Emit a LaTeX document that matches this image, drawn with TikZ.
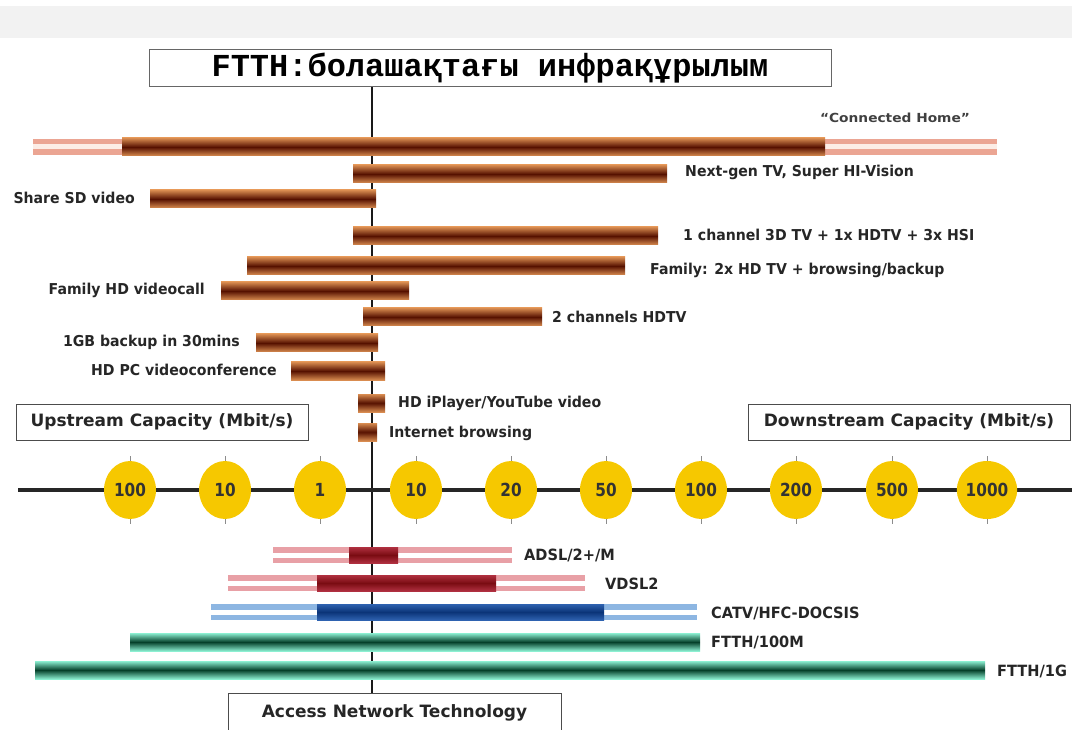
\documentclass[tikz,border=0pt]{standalone}
\usepackage{fontspec}
\usetikzlibrary{shapes.geometric}
\setmainfont{DejaVu Sans}
\newfontfamily\lblf[FakeStretch=0.94]{DejaVu Sans}
\newfontfamily\numf[FakeStretch=0.85]{DejaVu Sans}
\newfontfamily\chf[FakeStretch=1.1]{DejaVu Sans}
\newfontfamily\titlef{Liberation Mono}
\definecolor{brEdge}{HTML}{D98C50}
\definecolor{brDark}{HTML}{561100}
\definecolor{pkLine}{HTML}{EBA593}
\definecolor{pkMid}{HTML}{FCEDE6}
\definecolor{rdLine}{HTML}{E8A0A6}
\definecolor{rdEdge}{HTML}{B03040}
\definecolor{rdDark}{HTML}{7A0C12}
\definecolor{buLine}{HTML}{8DB6E2}
\definecolor{buEdge}{HTML}{2E62B0}
\definecolor{buDark}{HTML}{0B3478}
\definecolor{gnEdge}{HTML}{8CF0D2}
\definecolor{gnDark}{HTML}{05402A}
\definecolor{yel}{HTML}{F6C800}
\definecolor{band}{HTML}{F2F2F2}
\newcommand\brbar[3]{\shade[top color=brEdge,bottom color=brEdge,middle color=brDark] (#1,#3-9) rectangle (#2,#3+9);}
\newcommand\pale[5]{\fill[#4] (#1,#3-8) rectangle (#2,#3+8);\fill[#5] (#1,#3-2.5) rectangle (#2,#3+2.5);}
\begin{document}
\begin{tikzpicture}[x=1pt,y=-1pt,
  lbl/.style={font=\lblf\bfseries\fontsize{15}{17}\selectfont,inner sep=0pt,text=black!85},
  tlbl/.style={font=\lblf\bfseries\fontsize{15.5}{17}\selectfont,inner sep=0pt,text=black!85},
  capbox/.style={draw=black!70,line width=1pt,fill=white,font=\bfseries\fontsize{17}{19}\selectfont,text=black!85,inner sep=0pt},
  ycirc/.style={ellipse,fill=yel,minimum width=52,minimum height=58,inner sep=0pt,font=\numf\bfseries\fontsize{18}{20}\selectfont,text=black!80},
  tick/.style={draw=black!45,line width=0.8pt}]
\useasboundingbox (0,0) rectangle (1072,730);
\fill[band] (0,6) rectangle (1072,38);
% vertical axis
\coordinate (vtop) at (372,87);
\coordinate (vbot) at (372,730);
\draw[line width=2pt,black!90] (vtop) -- (vbot);
% title
\node[draw=black!60,line width=1pt,fill=white,minimum width=682,minimum height=37,inner sep=0pt,
  font=\titlef\bfseries\fontsize{32}{34}\selectfont] (title) at (490,68.5) {FTTH:болашақтағы инфрақұрылым};
% connected home
\pale{33}{997}{147}{pkLine}{pkMid}
\brbar{122}{825}{147}
\node[inner sep=0pt,font=\chf\bfseries\fontsize{12.5}{14}\selectfont,text=black!75] (ch) at (895,118) {“Connected Home”};
% demand bars
\brbar{353}{667}{174}
\node[lbl,anchor=west] (l1) at (685,172) {Next-gen TV, Super HI-Vision};
\brbar{150}{376}{199}
\node[lbl,anchor=east] (l2) at (135,198) {Share SD video};
\brbar{353}{658}{236}
\node[lbl,anchor=west] (l3) at (683,235) {1 channel 3D TV + 1x HDTV + 3x HSI};
\brbar{247}{625}{266}
\node[lbl,anchor=west] (l4) at (650,270) {Family: 2x HD TV + browsing/backup};
\brbar{221}{409}{291}
\node[lbl,anchor=east] (l5) at (205,290) {Family HD videocall};
\brbar{363}{542}{317}
\node[lbl,anchor=west] (l6) at (552,317) {2 channels HDTV};
\brbar{256}{378}{343}
\node[lbl,anchor=east] (l7) at (240,342) {1GB backup in 30mins};
\brbar{291}{385}{371}
\node[lbl,anchor=east] (l8) at (277,370) {HD PC videoconference};
\brbar{358}{385}{403}
\node[lbl,anchor=west] (l9) at (398,403) {HD iPlayer/YouTube video};
\brbar{358}{377}{432}
\node[lbl,anchor=west] (l10) at (389,433) {Internet browsing};
% capacity boxes
\node[capbox,minimum width=292,minimum height=36] (up) at (162,422) {Upstream Capacity (Mbit/s)};
\node[capbox,minimum width=322,minimum height=36] (down) at (909,422) {Downstream Capacity (Mbit/s)};
% horizontal axis
\coordinate (hl) at (18,490);
\coordinate (hr) at (1072,490);
\draw[line width=4pt,black!85] (hl) -- (hr);
\foreach \x/\t [count=\i] in {130/100,225/10,320/1,416/10,511/20,606/50,701/100,796/200,892/500,987/1000}{
  \draw[tick] (\x,456) -- (\x,524);
  \node[ycirc] (c\i) at (\x,490) {\t};
}
% technologies
\pale{273}{512}{555}{rdLine}{white}
\shade[top color=rdEdge,bottom color=rdEdge,middle color=rdDark] (349,547) rectangle (398,563);
\node[tlbl,anchor=west] (t1) at (524,555) {ADSL/2+/M};
\pale{228}{585}{583}{rdLine}{white}
\shade[top color=rdEdge,bottom color=rdEdge,middle color=rdDark] (317,575) rectangle (496,591);
\node[tlbl,anchor=west] (t2) at (605,584) {VDSL2};
\pale{211}{697}{612}{buLine}{white}
\shade[top color=buEdge,bottom color=buEdge,middle color=buDark] (317,604) rectangle (604,620);
\node[tlbl,anchor=west] (t3) at (711,613) {CATV/HFC-DOCSIS};
\shade[top color=gnEdge,bottom color=gnEdge,middle color=gnDark] (130,633) rectangle (700,651);
\node[tlbl,anchor=west] (t4) at (711,642) {FTTH/100M};
\shade[top color=gnEdge,bottom color=gnEdge,middle color=gnDark] (35,661) rectangle (985,679);
\node[tlbl,anchor=west] (t5) at (997,671) {FTTH/1G};
% access box
\node[capbox,minimum width=333,minimum height=38,anchor=north] (acc) at (394.5,693) {Access Network Technology};
\end{tikzpicture}
\end{document}
